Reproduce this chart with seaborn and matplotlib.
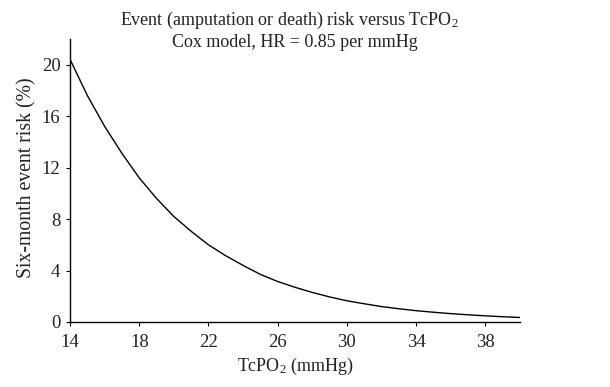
"""Six-month event risk against TcPO2 from a Cox model (HR 0.85 per mmHg)."""
import matplotlib
matplotlib.use("Agg")
import matplotlib.pyplot as plt
import pandas as pd
import seaborn as sns

# values
tcpo2 = [14, 15, 16, 17, 18, 19, 20, 21, 22, 23, 24, 25, 26, 27,
         28, 29, 30, 31, 32, 33, 34, 35, 36, 37, 38, 39, 40]
risk = [20.4, 17.6, 15.2, 13.1, 11.2, 9.6, 8.2, 7.05, 6.0, 5.15, 4.4, 3.7, 3.15, 2.7,
        2.3, 1.95, 1.65, 1.42, 1.2, 1.03, 0.88, 0.76, 0.65, 0.56, 0.48, 0.41, 0.35]
xticks = [14, 18, 22, 26, 30, 34, 38]
yticks = [0, 4, 8, 12, 16, 20]

sns.set_theme(style="ticks")
plt.rcParams["font.family"] = ["Liberation Serif", "DejaVu Serif"]
plt.rcParams["mathtext.default"] = "regular"

df = pd.DataFrame({"tcpo2": tcpo2, "risk": risk})

fig = plt.figure(figsize=(6.1, 3.87), dpi=100)
ax = fig.add_axes([0.115, 0.168, 0.737, 0.731])
sns.lineplot(data=df, x="tcpo2", y="risk", color="black", linewidth=1.0, ax=ax)

ax.set_xlim(14, 40)
ax.set_ylim(0, 22)
ax.set_xticks(xticks)
ax.set_yticks(yticks)
ax.tick_params(labelsize=13.5, length=3, width=0.8, color="black", labelcolor="#222222")
ax.tick_params(axis="x", pad=6)
ax.tick_params(axis="y", pad=4)
sns.despine(ax=ax)
for s in ("left", "bottom"):
    ax.spines[s].set_color("black")
    ax.spines[s].set_linewidth(1.0)

ax.set_xlabel("TcPO$_2$ (mmHg)", fontsize=13, color="#222222", labelpad=3)
ax.set_ylabel("Six-month event risk (%)", fontsize=14.2, color="#222222")
ax.yaxis.set_label_coords(-0.075, 0.51)
fig.text(0.475, 0.948, "Event (amputation or death) risk versus TcPO$_2$",
         ha="center", va="center", fontsize=13, color="#222222")
fig.text(0.483, 0.889, "Cox model, HR = 0.85 per mmHg",
         ha="center", va="center", fontsize=13, color="#222222")

fig.savefig("out.png", dpi=100)
